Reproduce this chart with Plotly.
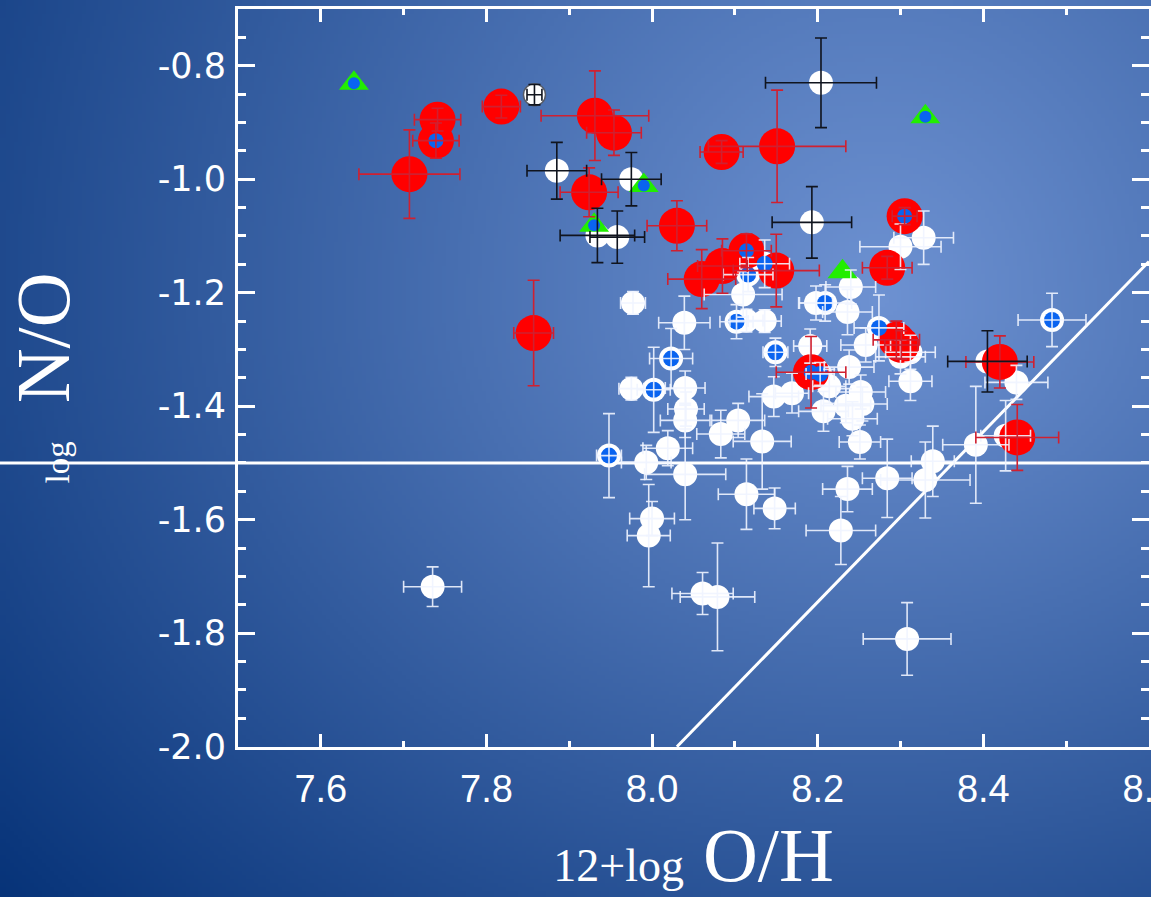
import base64, struct, zlib
import numpy as np
import plotly.graph_objects as go

# ---------------- data ----------------
# white circles, white error bars
wx  = [7.735, 7.977, 8.039, 8.110, 8.114, 8.136, 8.198, 8.240, 8.236, 8.300, 8.328, 8.191, 8.214, 8.207,
       8.147, 8.169, 8.238, 8.258, 8.300, 8.312, 8.312, 8.252, 8.254, 8.234, 8.242, 8.251, 8.236, 8.284,
       8.330, 8.339, 8.391, 8.440, 8.427, 8.308, 8.228, 8.000, 7.996, 8.061, 8.079, 8.114, 8.148, 7.975,
       8.040, 8.041, 8.040, 8.083, 8.104, 8.133, 7.993, 8.019, 8.040]
wy  = [-1.718, -1.218, -1.253, -1.203, -1.249, -1.250, -1.218, -1.190, -1.234, -1.119, -1.103, -1.294, -1.365, -1.409,
       -1.383, -1.377, -1.331, -1.292, -1.313, -1.305, -1.356, -1.375, -1.396, -1.399, -1.422, -1.463, -1.546, -1.527,
       -1.530, -1.497, -1.468, -1.358, -1.452, -1.810, -1.619, -1.598, -1.628, -1.730, -1.736, -1.555, -1.580, -1.369,
       -1.368, -1.405, -1.425, -1.449, -1.425, -1.462, -1.499, -1.474, -1.520]
wex = [0.035, 0.015, 0.031, 0.047, 0.020, 0.020, 0.020, 0.030, 0.030, 0.049, 0.036, 0.020, 0.020, 0.030,
       0.030, 0.020, 0.030, 0.030, 0.030, 0.030, 0.026, 0.030, 0.030, 0.030, 0.030, 0.025, 0.030, 0.030,
       0.054, 0.026, 0.040, 0.038, 0.030, 0.053, 0.042, 0.027, 0.026, 0.037, 0.045, 0.034, 0.025, 0.015,
       0.024, 0.022, 0.030, 0.029, 0.032, 0.035, 0.030, 0.030, 0.049]
wey = [0.035, 0.020, 0.047, 0.040, 0.020, 0.020, 0.030, 0.030, 0.040, 0.040, 0.047, 0.030, 0.030, 0.035,
       0.035, 0.035, 0.030, 0.030, 0.030, 0.030, 0.034, 0.030, 0.030, 0.030, 0.030, 0.030, 0.040, 0.069,
       0.067, 0.062, 0.103, 0.030, 0.062, 0.064, 0.060, 0.030, 0.090, 0.037, 0.095, 0.062, 0.036, 0.020,
       0.030, 0.030, 0.030, 0.042, 0.030, 0.084, 0.030, 0.031, 0.080]

# white circles, black error bars
kx  = [8.204, 7.885, 7.975, 8.193, 7.934, 7.958, 8.405, 7.858]
ky  = [-0.830, -0.985, -1.000, -1.076, -1.099, -1.102, -1.321, -0.851]
kex = [0.067, 0.036, 0.036, 0.048, 0.045, 0.033, 0.048, 0.009]
key = [0.079, 0.050, 0.047, 0.063, 0.048, 0.046, 0.054, 0.018]

# white rings with blue centres, white error bars
bx  = [8.274, 8.483, 8.102, 8.209, 8.023, 8.149, 8.203, 8.002, 7.948, 8.116, 8.136]
by  = [-1.262, -1.248, -1.251, -1.218, -1.316, -1.305, -1.343, -1.371, -1.487, -1.168, -1.149]
bex = [0.030, 0.041, 0.020, 0.032, 0.026, 0.015, 0.017, 0.020, 0.015, 0.030, 0.030]
bey = [0.058, 0.047, 0.030, 0.032, 0.053, 0.025, 0.020, 0.075, 0.074, 0.030, 0.042]

# red circles, red error bars
rx  = [7.741, 7.707, 7.818, 7.931, 7.954, 8.084, 8.151, 7.924, 8.030, 8.060, 8.085, 8.150, 8.284, 8.295,
       8.420, 8.441, 7.857, 8.301]
ry  = [-0.895, -0.991, -0.872, -0.888, -0.918, -0.952, -0.942, -1.023, -1.082, -1.176, -1.153, -1.161, -1.156, -1.283,
       -1.322, -1.455, -1.271, -1.292]
rex = [0.028, 0.061, 0.023, 0.065, 0.033, 0.026, 0.083, 0.035, 0.036, 0.041, 0.030, 0.052, 0.030, 0.028,
       0.041, 0.050, 0.024, 0.020]
rey = [0.020, 0.078, 0.020, 0.079, 0.040, 0.020, 0.099, 0.043, 0.044, 0.052, 0.048, 0.064, 0.020, 0.033,
       0.046, 0.058, 0.093, 0.025]

# red circles with blue centres
qx  = [7.739, 8.305, 8.192, 8.114]
qy  = [-0.932, -1.065, -1.340, -1.126]
qex = [0.028, 0.015, 0.042, 0.030]
qey = [0.031, 0.015, 0.063, 0.030]

# green triangles with blue centres
gx = [7.640, 7.990, 7.930, 8.330]
gy = [-0.831, -1.011, -1.081, -0.890]
# green triangle without centre
hx = [8.230]
hy = [-1.163]

# reference lines
hline_y = -1.5
dline_x = [8.03, 8.60]
dline_y = [-2.00, -1.145]

x_ticks = [7.6, 7.8, 8.0, 8.2, 8.4, 8.6]
y_ticks = [-2.0, -1.8, -1.6, -1.4, -1.2, -1.0, -0.8]

# ---------------- background gradient ----------------
W, H = 1151, 897
ML, MR, MT, MB = 238, 2, 9, 150
PW, PH = W - ML - MR, H - MT - MB

gw, gh = 288, 224
xs = np.linspace(0, W, gw)[None, :]
ys = np.linspace(0, H, gh)[:, None]
cx, cy = 880.0, 300.0
dy = ys - cy
dy = np.where(dy > 0, dy * 1.25, dy * 0.9)
t = np.sqrt((xs - cx) ** 2 + dy ** 2) / 1100.0
t = np.clip(t, 0, 1.1)
light = np.array([110, 146, 210], float)
dark = np.array([12, 56, 125], float)
img = light[None, None, :] * (1 - t[..., None]) + dark[None, None, :] * t[..., None]
img = np.clip(img, 0, 255).astype(np.uint8)


def png_bytes(a):
    h, w, _ = a.shape
    raw = b"".join(b"\x00" + a[i].tobytes() for i in range(h))

    def chunk(tag, data):
        c = struct.pack(">I", len(data)) + tag + data
        return c + struct.pack(">I", zlib.crc32(tag + data) & 0xFFFFFFFF)

    return (b"\x89PNG\r\n\x1a\n" + chunk(b"IHDR", struct.pack(">IIBBBBB", w, h, 8, 2, 0, 0, 0))
            + chunk(b"IDAT", zlib.compress(raw, 9)) + chunk(b"IEND", b""))


bg_uri = "data:image/png;base64," + base64.b64encode(png_bytes(img)).decode()

# ---------------- figure ----------------
WHITE = "#ffffff"
RED = "#ff0000"
BLUE = "#0a64f0"
GREEN = "#22ee00"
ERR_W = "rgba(240,244,255,0.9)"
ERR_R = "#d02030"
ERR_K = "#10141e"

fig = go.Figure()

# diagonal line
fig.add_trace(go.Scatter(x=dline_x, y=dline_y, mode="lines", line=dict(color=WHITE, width=3),
                         hoverinfo="skip", showlegend=False))

# marker layers
def mk(x, y, size, color, symbol="circle", line=None):
    fig.add_trace(go.Scatter(x=x, y=y, mode="markers", showlegend=False,
                             marker=dict(size=size, color=color, symbol=symbol,
                                         line=line or dict(width=0))))

mk(wx, wy, 24, WHITE)
mk(bx, by, 24, WHITE)
mk(kx[:-1], ky[:-1], 24, WHITE)
mk(kx[-1:], ky[-1:], 22, WHITE, line=dict(width=1.5, color="#555a66"))
mk(rx, ry, 36, RED)
mk(qx, qy, 36, RED)
mk(gx, gy, 26, GREEN, symbol="triangle-up")
mk(hx, hy, 26, GREEN, symbol="triangle-up")
mk(bx, by, 16, BLUE)
mk(qx, qy, 15, BLUE)
mk(gx, gy, 12, BLUE)

# error bar layers (drawn on top)
def eb(x, y, ex, ey, color):
    fig.add_trace(go.Scatter(x=x, y=y, mode="markers", showlegend=False, hoverinfo="skip",
                             marker=dict(size=1, color="rgba(0,0,0,0)"),
                             error_x=dict(type="data", array=ex, color=color, thickness=1.6, width=6),
                             error_y=dict(type="data", array=ey, color=color, thickness=1.6, width=6)))

eb(wx, wy, wex, wey, ERR_W)
eb(bx, by, bex, bey, ERR_W)
eb(rx, ry, rex, rey, ERR_R)
eb(qx, qy, qex, qey, ERR_R)
eb(kx, ky, kex, key, ERR_K)

fig.add_shape(type="line", xref="paper", yref="y", x0=-0.3, x1=1.0, y0=hline_y, y1=hline_y,
              line=dict(color=WHITE, width=3), layer="below")

fig.add_layout_image(dict(source=bg_uri, xref="paper", yref="paper", x=-ML / PW, y=1 + MT / PH,
                          sizex=W / PW, sizey=H / PH, xanchor="left", yanchor="top",
                          sizing="stretch", layer="below"))

axis_common = dict(showline=True, linecolor=WHITE, linewidth=3, mirror="ticks", ticks="inside",
                   tickcolor=WHITE, tickwidth=3, showgrid=False, zeroline=False, automargin=False,
                   ticklabeloverflow="allow")

fig.update_xaxes(range=[7.5, 8.6001], tickvals=x_ticks, ticktext=[f"{v:.1f}" for v in x_ticks],
                 ticklen=13, ticklabelstandoff=6,
                 tickfont=dict(family="Liberation Sans, Arial, sans-serif", size=38, color=WHITE),
                 minor=dict(dtick=0.1, tick0=7.5, ticklen=6, tickwidth=3, tickcolor=WHITE, ticks="inside"),
                 title=dict(text="<span style='font-size:46px'>12+log</span> O/H", standoff=24,
                            font=dict(family="Liberation Serif, Times New Roman, serif", size=76, color=WHITE)),
                 **axis_common)
fig.update_yaxes(range=[-2.0005, -0.7], tickvals=y_ticks, ticktext=[f"{v:.1f}" for v in y_ticks],
                 ticklen=17, ticklabelstandoff=2,
                 tickfont=dict(family="DejaVu Sans, sans-serif", size=35, color=WHITE),
                 minor=dict(dtick=0.05, tick0=-2.0, ticklen=8, tickwidth=3, tickcolor=WHITE, ticks="inside"),
                 title=dict(text="<span style='font-size:33px'>log</span>&nbsp; N/O", standoff=64,
                            font=dict(family="Liberation Serif, Times New Roman, serif", size=76, color=WHITE)),
                 **axis_common)

fig.update_layout(width=W, height=H, margin=dict(l=ML, r=MR, t=MT, b=MB, pad=0),
                  paper_bgcolor="#1c4a8c", plot_bgcolor="rgba(0,0,0,0)", showlegend=False)

fig.write_html("out.html")
